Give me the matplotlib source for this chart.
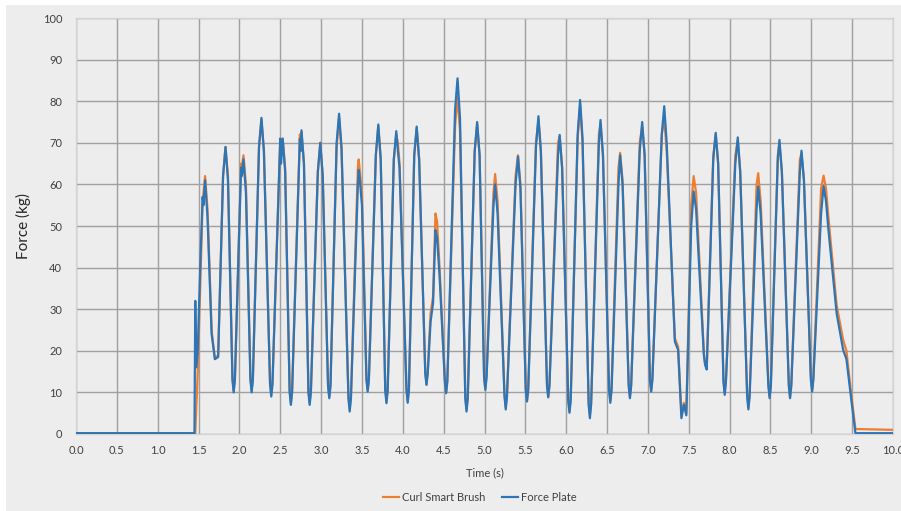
import matplotlib
matplotlib.use("Agg")
import matplotlib.pyplot as plt
from matplotlib.patches import Rectangle

# readings (time in s, force in kg), one cycle per line
time_s = [
    0.00, 1.45, 1.46, 1.47, 1.49, 1.52, 1.55, 1.56, 1.58, 1.61, 1.66, 1.70, 1.74,
    1.80, 1.83, 1.86, 1.915, 1.93, 1.945,
    2.02, 2.03, 2.05, 2.08, 2.135, 2.15, 2.165,
    2.24, 2.27, 2.30, 2.375, 2.39, 2.405,
    2.50, 2.51, 2.53, 2.56, 2.615, 2.63, 2.645,
    2.74, 2.75, 2.76, 2.79, 2.845, 2.86, 2.875,
    2.96, 2.99, 3.02, 3.085, 3.10, 3.115,
    3.19, 3.22, 3.25, 3.335, 3.35, 3.365,
    3.45, 3.46, 3.47, 3.50, 3.555, 3.57, 3.585,
    3.67, 3.70, 3.73, 3.785, 3.80, 3.815,
    3.89, 3.92, 3.94, 3.96, 4.045, 4.06, 4.075,
    4.14, 4.17, 4.20, 4.275, 4.29, 4.305,
    4.34, 4.37, 4.40, 4.42, 4.45, 4.515, 4.53, 4.545,
    4.64, 4.67, 4.70, 4.765, 4.78, 4.795,
    4.88, 4.91, 4.94, 4.995, 5.01, 5.025,
    5.11, 5.13, 5.16, 5.245, 5.26, 5.275,
    5.38, 5.41, 5.44, 5.505, 5.52, 5.535,
    5.63, 5.66, 5.69, 5.765, 5.78, 5.795,
    5.90, 5.92, 5.95, 6.025, 6.04, 6.055,
    6.14, 6.17, 6.20, 6.275, 6.29, 6.305,
    6.40, 6.42, 6.45, 6.525, 6.54, 6.555,
    6.64, 6.66, 6.69, 6.765, 6.78, 6.795,
    6.90, 6.93, 6.96, 7.025, 7.04, 7.055,
    7.17, 7.20, 7.23, 7.33, 7.37, 7.41, 7.44, 7.47,
    7.53, 7.56, 7.59, 7.685, 7.70, 7.72,
    7.80, 7.83, 7.86, 7.925, 7.94, 7.955,
    8.07, 8.10, 8.13, 8.215, 8.23, 8.245,
    8.33, 8.35, 8.38, 8.475, 8.49, 8.505,
    8.59, 8.61, 8.64, 8.725, 8.74, 8.755,
    8.86, 8.88, 8.91, 8.995, 9.01, 9.025,
    9.12, 9.15, 9.18, 9.21, 9.31, 9.39, 9.43, 9.48, 9.54, 10.00,
]

force_plate = [
    0.2, 0.2, 32.0, 16.0, 20.0, 40.0, 57.0, 55.0, 61.0, 52.0, 24.0, 18.0, 18.5,
    62.0, 69.0, 61.0, 13.0, 10.0, 13.0,
    64.0, 62.0, 66.0, 58.0, 13.0, 10.0, 13.0,
    69.0, 76.0, 68.0, 12.0, 9.0, 12.0,
    71.0, 65.0, 71.0, 63.0, 10.0, 7.0, 10.0,
    71.0, 68.0, 73.0, 65.0, 10.0, 7.0, 10.0,
    63.0, 70.0, 62.0, 11.5, 8.6, 11.5,
    70.0, 77.0, 69.0, 8.5, 5.4, 8.5,
    60.0, 63.5, 62.0, 55.0, 13.0, 10.2, 13.0,
    67.0, 74.4, 66.0, 10.5, 7.4, 10.5,
    66.0, 72.8, 68.0, 64.0, 10.5, 7.5, 10.5,
    67.0, 73.9, 66.0, 14.5, 11.8, 14.5,
    27.0, 31.4, 49.0, 47.0, 38.0, 12.5, 9.8, 12.5,
    78.0, 85.5, 76.0, 8.5, 5.4, 8.5,
    68.0, 75.0, 67.0, 13.5, 10.6, 13.5,
    55.0, 60.0, 53.0, 9.0, 5.9, 9.0,
    60.0, 66.7, 59.0, 10.5, 7.8, 10.5,
    69.0, 76.4, 68.0, 11.5, 8.8, 11.5,
    67.0, 71.9, 64.0, 8.0, 5.1, 8.0,
    72.0, 80.3, 71.0, 7.0, 3.8, 7.0,
    70.0, 75.5, 67.0, 10.5, 7.5, 10.5,
    60.0, 67.0, 60.0, 11.5, 8.6, 11.5,
    68.0, 75.0, 67.0, 13.0, 10.2, 13.0,
    72.0, 78.8, 70.0, 22.2, 20.2, 3.8, 7.0, 4.5,
    50.0, 58.3, 54.0, 19.0, 16.6, 15.5,
    66.0, 72.4, 65.0, 12.5, 9.4, 12.5,
    65.0, 71.3, 63.0, 9.0, 5.9, 9.0,
    54.0, 59.5, 53.0, 11.5, 8.6, 11.5,
    66.0, 70.7, 63.0, 11.5, 8.6, 11.5,
    63.0, 68.1, 61.0, 13.0, 10.2, 13.0,
    53.0, 59.6, 56.0, 49.0, 29.0, 20.2, 18.0, 9.8, 0.2, 0.2,
]

smart_brush = [
    0.2, 0.2, 0.2, 5.0, 15.0, 35.0, 56.0, 58.0, 62.0, 54.0, 25.0, 18.0, 19.0,
    62.0, 69.0, 62.0, 13.5, 10.5, 13.5,
    65.0, 64.0, 67.0, 60.0, 13.5, 10.5, 13.5,
    69.0, 75.5, 68.0, 12.5, 9.5, 12.5,
    71.0, 67.0, 71.0, 64.0, 10.5, 7.5, 10.5,
    72.0, 70.0, 72.5, 65.0, 10.5, 7.5, 10.5,
    63.0, 70.0, 62.0, 12.0, 9.0, 12.0,
    69.0, 76.0, 68.0, 9.0, 6.0, 9.0,
    64.0, 66.0, 64.0, 58.0, 13.5, 10.5, 13.5,
    67.0, 74.0, 66.0, 11.0, 7.8, 11.0,
    66.0, 72.0, 70.0, 65.0, 11.0, 8.0, 11.0,
    67.0, 73.5, 66.0, 15.0, 12.0, 15.0,
    29.0, 33.0, 53.0, 51.0, 40.0, 13.0, 10.0, 13.0,
    74.0, 81.0, 73.0, 9.0, 6.0, 9.0,
    68.0, 74.5, 67.0, 14.0, 11.0, 14.0,
    58.0, 62.5, 56.0, 9.5, 6.5, 9.5,
    62.0, 67.0, 60.0, 11.0, 8.2, 11.0,
    70.0, 75.5, 68.0, 12.0, 9.0, 12.0,
    70.0, 71.5, 64.0, 8.5, 5.5, 8.5,
    71.0, 79.0, 70.0, 7.5, 4.5, 7.5,
    72.0, 74.5, 67.0, 11.0, 8.0, 11.0,
    64.0, 67.6, 61.0, 12.0, 9.0, 12.0,
    70.0, 74.0, 67.0, 13.5, 10.5, 13.5,
    72.0, 76.0, 68.0, 23.0, 21.0, 5.0, 7.5, 5.0,
    55.0, 62.0, 58.0, 19.5, 17.0, 16.0,
    67.0, 72.0, 65.0, 13.0, 10.0, 13.0,
    67.0, 70.5, 63.0, 9.5, 6.5, 9.5,
    60.0, 62.7, 56.0, 12.0, 9.0, 12.0,
    67.0, 70.0, 63.0, 12.0, 9.0, 12.0,
    66.0, 67.5, 61.0, 13.5, 10.5, 13.5,
    59.0, 62.1, 59.0, 52.0, 31.0, 22.6, 20.0, 11.0, 1.2, 1.0,
]

assert len(time_s) == len(force_plate) == len(smart_brush)

x_ticks = [i * 0.5 for i in range(21)]
y_ticks = list(range(0, 101, 10))

plt.rcParams['font.family'] = ['Lato', 'DejaVu Sans']

fig = plt.figure(figsize=(9.01, 5.11), dpi=100, facecolor='white')
# grey chart area with a thin white strip on top and left
fig.patches.append(Rectangle((6 / 901, 0), 1, 1 - 5 / 511, transform=fig.transFigure,
                             facecolor='#ededed', edgecolor='none', zorder=-5))

ax = fig.add_axes([76 / 901, 1 - 434 / 511, 817 / 901, 416 / 511])
ax.set_facecolor('#ededed')

ax.plot(time_s, smart_brush, color='#ed7d31', lw=1.6, label='Curl Smart Brush', zorder=3)
ax.plot(time_s, force_plate, color='#2e75b6', lw=1.6, label='Force Plate', zorder=4)

ax.set_xlim(0, 10)
ax.set_ylim(0, 100)
ax.set_xticks(x_ticks)
ax.set_xticklabels([f"{v:.1f}" for v in x_ticks])
ax.set_yticks(y_ticks)
ax.tick_params(axis='both', length=0, labelsize=8, colors='#404040')
ax.tick_params(axis='x', pad=8)
ax.tick_params(axis='y', pad=10)

ax.grid(True, color='#a0a0a0', linewidth=1.0, zorder=0)
ax.set_axisbelow(True)
for s in ax.spines.values():
    s.set_color('#d4d4d4')
    s.set_linewidth(1.0)
    s.set_zorder(2)

ax.set_xlabel('Time (s)', fontsize=8, color='#404040', labelpad=8)
ax.set_ylabel('Force (kg)', fontsize=11, color='#262626')
ax.yaxis.set_label_coords(-0.055, 0.5)

fig.legend(loc='center', bbox_to_anchor=(480 / 901, 1 - 497 / 511), ncol=2,
           frameon=False, fontsize=8, handlelength=1.4, handletextpad=0.3,
           columnspacing=1.5, labelcolor='#404040')

fig.savefig('out.png', dpi=100, facecolor=fig.get_facecolor())
